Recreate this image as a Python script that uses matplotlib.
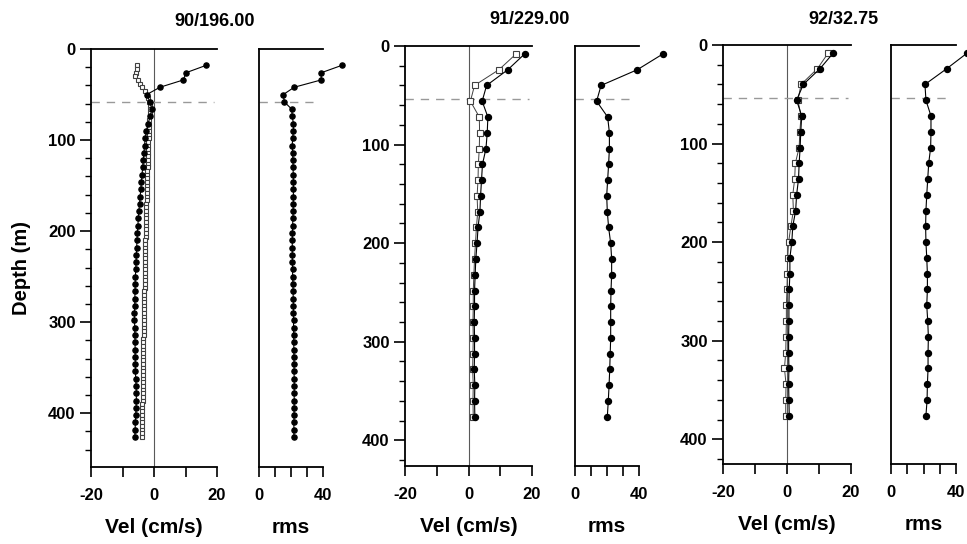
import numpy as np
import matplotlib
matplotlib.use("Agg")
import matplotlib.pyplot as plt

plt.rcParams['font.family'] = ['Liberation Sans', 'DejaVu Sans']
plt.rcParams['font.weight'] = 'bold'

# ---- station 90/196.00 (8 m bins, open series 4 m bins) ----
d1 = [18, 26, 34, 42, 50, 58, 66, 74, 82, 90, 98, 106, 114, 122, 130, 138, 146,
      154, 162, 170, 178, 186, 194, 202, 210, 218, 226, 234, 242, 250, 258, 266,
      274, 282, 290, 298, 306, 314, 322, 330, 338, 346, 354, 362, 370, 378, 386,
      394, 402, 410, 418, 426]
v1_fill = [16.5, 10.2, 9.3, 1.9, -2.3, -1.3, -0.7, -1.2, -1.9, -2.4, -2.8, -3.0,
           -3.2, -3.4, -3.6, -3.8, -4.0, -4.2, -4.4, -4.6, -4.8, -5.0, -5.1, -5.3,
           -5.4, -5.5, -5.6, -5.7, -5.8, -5.9, -6.0, -6.0, -6.1, -6.1, -6.2, -6.2,
           -6.1, -6.1, -6.0, -6.0, -6.0, -5.9, -5.9, -5.8, -5.7, -5.6, -5.6, -5.7,
           -5.8, -5.9, -6.0, -6.1]
rms1 = [51.7, 39.0, 38.8, 22.0, 15.2, 15.8, 20.4, 20.8, 21.5, 21.5, 21.0, 20.8,
        21.0, 21.2, 21.3, 21.4, 21.5, 21.5, 21.5, 21.4, 21.3, 21.2, 21.0, 20.9,
        20.8, 20.8, 20.8, 20.9, 21.0, 21.0, 21.2, 21.3, 21.4, 21.5, 21.5, 21.6,
        21.6, 21.7, 21.7, 21.8, 21.8, 21.9, 21.9, 22.0, 22.0, 22.0, 22.0, 21.9,
        21.9, 21.8, 21.8, 21.8]
d1_open = [18, 22, 26, 30, 34, 38, 42, 46, 50, 54, 58, 62, 66, 70, 74, 78, 82, 86,
           90, 94, 98, 102, 106, 110, 114, 118, 122, 126, 130, 134, 138, 142, 146,
           150, 154, 158, 162, 166, 170, 174, 178, 182, 186, 190, 194, 198, 202,
           206, 210, 214, 218, 222, 226, 230, 234, 238, 242, 246, 250, 254, 258,
           262, 266, 270, 274, 278, 282, 286, 290, 294, 298, 302, 306, 310, 314,
           318, 322, 326, 330, 334, 338, 342, 346, 350, 354, 358, 362, 366, 370,
           374, 378, 382, 386, 390, 394, 398, 402, 406, 410, 414, 418, 422, 426]
v1_open = [-5.5, -5.3, -5.7, -6.0, -5.2, -4.5, -3.9, -2.9, -2.3,
           -1.9, -1.6, -1.4, -1.3, -1.3, -1.4, -1.5, -1.5, -1.6, -1.6, -1.7, -1.7,
           -1.8, -1.8, -1.9, -1.9, -1.9, -2.0, -2.0, -2.0, -2.1, -2.1, -2.2, -2.2,
           -2.2, -2.3, -2.3, -2.3, -2.3, -2.4, -2.4, -2.4, -2.5, -2.5, -2.5, -2.5,
           -2.6, -2.6, -2.6, -2.7, -2.7, -2.7, -2.8, -2.8, -2.8, -2.8, -2.9, -2.9,
           -2.9, -3.0, -3.0, -3.0, -3.0, -3.1, -3.1, -3.1, -3.1, -3.2, -3.2, -3.2,
           -3.2, -3.3, -3.3, -3.3, -3.3, -3.3, -3.4, -3.4, -3.4, -3.4, -3.4, -3.5,
           -3.5, -3.5, -3.5, -3.5, -3.5, -3.6, -3.6, -3.6, -3.6, -3.6, -3.6, -3.6,
           -3.7, -3.7, -3.7, -3.7, -3.7, -3.7, -3.7, -3.7, -3.7, -3.7]

# ---- stations 91/229.00 and 92/32.75 (16 m bins) ----
d23 = [8, 24, 40, 56, 72, 88, 104, 120, 136, 152, 168, 184, 200, 216, 232, 248,
       264, 280, 296, 312, 328, 344, 360, 376]
v2_fill = [17.7, 12.4, 5.7, 4.3, 6.1, 5.9, 5.5, 4.4, 4.1, 3.8, 3.6, 3.0, 2.7, 2.3,
           2.1, 1.9, 1.9, 1.8, 1.9, 1.9, 1.8, 2.0, 1.9, 2.0]
v2_open = [15.0, 9.6, 1.9, 0.6, 3.4, 3.5, 3.4, 3.1, 3.0, 2.7, 2.9, 2.5, 2.2, 1.9,
           1.7, 1.5, 1.5, 1.4, 1.5, 1.4, 1.3, 1.5, 1.4, 1.5]
rms2 = [55.0, 39.0, 16.3, 13.5, 20.4, 21.5, 21.5, 21.0, 20.4, 19.8, 20.2, 21.0,
        22.3, 22.9, 22.9, 22.5, 22.3, 22.3, 22.3, 22.0, 21.7, 21.3, 20.8, 20.2]
v3_fill = [14.5, 10.3, 5.1, 3.0, 4.6, 4.3, 4.1, 3.8, 3.6, 3.0, 2.7, 1.8, 1.5, 0.9,
           0.9, 0.7, 0.6, 0.6, 0.5, 0.5, 0.6, 0.5, 0.6, 0.7]
v3_open = [12.9, 9.5, 4.4, 3.4, 4.4, 4.0, 3.8, 2.6, 2.4, 1.8, 2.0, 1.2, 0.5, 0.2,
           0.1, 0.0, -0.2, -0.2, -0.3, -0.4, -0.8, -0.3, -0.4, -0.4]
rms3 = [47.0, 34.3, 20.9, 21.5, 24.6, 24.6, 24.4, 23.2, 22.6, 22.0, 21.5, 21.3,
        21.5, 22.0, 22.4, 22.4, 22.0, 22.6, 23.0, 22.8, 22.8, 22.4, 22.2, 21.5]

titles = ["90/196.00", "91/229.00", "92/32.75"]
mld = [58, 54, 54]

W, H = 967, 544
fig = plt.figure(figsize=(W / 100, H / 100), dpi=100)


def box(x0, x1, ytop, ybot):
    return [x0 / W, 1 - ybot / H, (x1 - x0) / W, (ybot - ytop) / H]


def style(ax):
    ax.spines['right'].set_visible(False)
    for s in ['left', 'top', 'bottom']:
        ax.spines[s].set_linewidth(1.3)
    ax.tick_params(axis='x', direction='out', length=7, width=1.2, pad=8, labelsize=12)
    ax.tick_params(axis='y', which='major', direction='out', length=8, width=1.2, pad=3, labelsize=12)
    ax.tick_params(axis='y', which='minor', direction='out', length=4, width=1.0)


layout = [  # vel x0, x1, rms x0, x1, ytop, ybot, ylim
    (91, 217, 259, 323, 49, 467, 459),
    (405, 532, 575, 639, 46, 466, 426),
    (723, 851, 891, 956, 45, 464, 425),
]
data = [
    (d1, v1_fill, d1_open, v1_open, rms1),
    (d23, v2_fill, d23, v2_open, rms2),
    (d23, v3_fill, d23, v3_open, rms3),
]

for i, ((vx0, vx1, rx0, rx1, yt, yb, ymax), (dd, vf, do, vo, rr)) in enumerate(zip(layout, data)):
    small = i == 0
    msf = 3.7 if small else 4.3
    ax = fig.add_axes(box(vx0, vx1, yt, yb))
    ax.set_xlim(-20, 20)
    ax.set_ylim(ymax, 0)
    ax.axvline(0, color='0.35', lw=0.8)
    ax.plot([-20, 19], [mld[i], mld[i]], ls=(0, (6, 5)), color='0.6', lw=1.0)
    ax.plot(vo, do, color='0.25', lw=0.7, marker='s', ms=3.0 if small else 4.0,
            mfc='white', mec='0.25', mew=0.8, clip_on=False)
    ax.plot(vf, dd, color='k', lw=0.8, marker='o', ms=msf, mfc='k', mec='k', clip_on=False)
    ax.set_xticks([-20, -10, 0, 10, 20])
    ax.set_xticklabels(['-20', '', '0', '', '20'])
    ax.set_yticks([0, 100, 200, 300, 400])
    ax.set_yticks(np.arange(20, ymax, 20), minor=True)
    style(ax)
    ax.set_xlabel('Vel (cm/s)', fontsize=15, fontweight='bold', labelpad=11)

    ar = fig.add_axes(box(rx0, rx1, yt, yb))
    ar.set_xlim(0, 40)
    ar.set_ylim(ymax, 0)
    ar.plot([0, 34], [mld[i], mld[i]], ls=(0, (6, 5)), color='0.6', lw=1.0)
    ar.plot(rr, dd, color='k', lw=0.8, marker='o', ms=msf, mfc='k', mec='k', clip_on=False)
    ar.set_xticks([0, 10, 20, 30, 40])
    ar.set_xticklabels(['0', '', '', '', '40'])
    ar.set_yticks([])
    style(ar)
    ar.set_xlabel('rms', fontsize=15, fontweight='bold', labelpad=11)

fig.text(22 / W, 1 - 268 / H, 'Depth (m)', rotation=90, ha='center', va='center',
         fontsize=14.5, fontweight='bold')
fig.text(215 / W, 1 - 22 / H, titles[0], ha='center', va='center', fontsize=13, fontweight='bold')
fig.text(530 / W, 1 - 20 / H, titles[1], ha='center', va='center', fontsize=13, fontweight='bold')
fig.text(843 / W, 1 - 20 / H, titles[2], ha='center', va='center', fontsize=13, fontweight='bold')

fig.savefig('out.png', dpi=100)
